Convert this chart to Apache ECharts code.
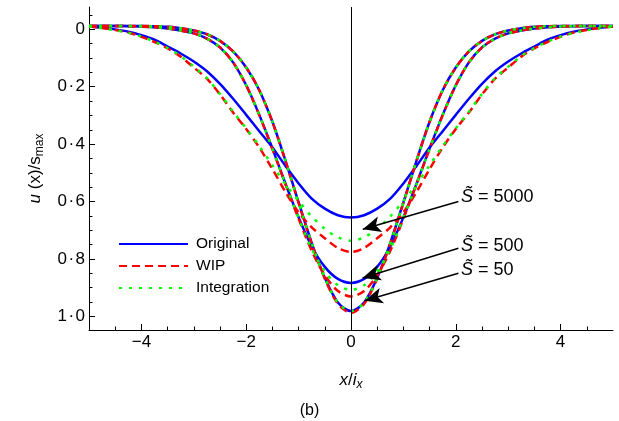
<!DOCTYPE html>
<html><head><meta charset="utf-8">
<script src="https://cdn.jsdelivr.net/npm/echarts@6/dist/echarts.min.js"></script>
<style>html,body{margin:0;padding:0;background:#fff}#c{width:619px;height:421px}</style>
</head><body><div id="c"></div>
<script>
const xs = [-5,-4.75,-4.5,-4.25,-4,-3.75,-3.5,-3.25,-3,-2.75,-2.5,-2.25,-2,-1.75,-1.5,-1.25,-1,-0.75,-0.5,-0.25,0,0.25,0.5,0.75,1,1.25,1.5,1.75,2,2.25,2.5,2.75,3,3.25,3.5,3.75,4,4.25,4.5,4.75,5];

const original50 = [-0.012,-0.012,-0.012,-0.012,-0.012,-0.011,-0.009,-0.004,0.004,0.017,0.040,0.077,0.133,0.212,0.322,0.458,0.603,0.744,0.866,0.952,0.982,0.952,0.866,0.744,0.603,0.458,0.322,0.212,0.133,0.077,0.040,0.017,0.004,-0.004,-0.009,-0.011,-0.012,-0.012,-0.012,-0.012,-0.012];
const original500 = [-0.012,-0.012,-0.012,-0.011,-0.010,-0.007,-0.003,0.004,0.014,0.032,0.063,0.115,0.195,0.298,0.415,0.538,0.655,0.757,0.828,0.870,0.884,0.870,0.828,0.757,0.655,0.538,0.415,0.298,0.195,0.115,0.063,0.032,0.014,0.004,-0.003,-0.007,-0.010,-0.011,-0.012,-0.012,-0.012];
const original5000 = [-0.010,-0.006,0.000,0.008,0.020,0.036,0.060,0.084,0.112,0.146,0.190,0.242,0.298,0.355,0.412,0.476,0.537,0.590,0.625,0.648,0.656,0.648,0.625,0.590,0.537,0.476,0.412,0.355,0.298,0.242,0.190,0.146,0.112,0.084,0.060,0.036,0.020,0.008,0.000,-0.006,-0.010];

const wip50 = [-0.012,-0.012,-0.012,-0.012,-0.012,-0.011,-0.009,-0.004,0.004,0.017,0.040,0.077,0.133,0.212,0.322,0.459,0.605,0.747,0.869,0.957,0.988,0.957,0.869,0.747,0.605,0.459,0.322,0.212,0.133,0.077,0.040,0.017,0.004,-0.004,-0.009,-0.011,-0.012,-0.012,-0.012,-0.012,-0.012];
const wip500 = [-0.012,-0.012,-0.012,-0.011,-0.010,-0.007,-0.003,0.004,0.014,0.032,0.063,0.115,0.195,0.299,0.417,0.540,0.660,0.772,0.857,0.912,0.931,0.912,0.857,0.772,0.660,0.540,0.417,0.299,0.195,0.115,0.063,0.032,0.014,0.004,-0.003,-0.007,-0.010,-0.011,-0.012,-0.012,-0.012];
const wip5000 = [-0.010,-0.005,0.002,0.011,0.026,0.044,0.066,0.095,0.133,0.172,0.227,0.290,0.347,0.412,0.487,0.567,0.638,0.690,0.728,0.762,0.776,0.762,0.728,0.690,0.638,0.567,0.487,0.412,0.347,0.290,0.227,0.172,0.133,0.095,0.066,0.044,0.026,0.011,0.002,-0.005,-0.010];

const integ50 = [-0.012,-0.012,-0.012,-0.012,-0.012,-0.011,-0.009,-0.004,0.004,0.017,0.040,0.077,0.133,0.212,0.322,0.458,0.604,0.745,0.867,0.953,0.982,0.953,0.867,0.745,0.604,0.458,0.322,0.212,0.133,0.077,0.040,0.017,0.004,-0.004,-0.009,-0.011,-0.012,-0.012,-0.012,-0.012,-0.012];
const integ500 = [-0.012,-0.012,-0.012,-0.011,-0.010,-0.007,-0.003,0.004,0.014,0.032,0.063,0.115,0.195,0.298,0.416,0.539,0.657,0.765,0.843,0.892,0.908,0.892,0.843,0.765,0.657,0.539,0.416,0.298,0.195,0.115,0.063,0.032,0.014,0.004,-0.003,-0.007,-0.010,-0.011,-0.012,-0.012,-0.012];
const integ5000 = [-0.010,-0.004,0.003,0.012,0.025,0.043,0.065,0.093,0.130,0.170,0.225,0.287,0.345,0.407,0.474,0.540,0.598,0.652,0.695,0.725,0.737,0.725,0.695,0.652,0.598,0.540,0.474,0.407,0.345,0.287,0.225,0.170,0.130,0.093,0.065,0.043,0.025,0.012,0.003,-0.004,-0.010];

const legendNames = ['Original','WIP','Integration'];
const xMajorTicks = [-4,-2,0,2,4];
const xMinorTicks = [-4.5,-3.5,-3,-2.5,-1.5,-1,-0.5,0.5,1,1.5,2.5,3,3.5,4.5];
const yMajorTicks = [0,0.2,0.4,0.6,0.8,1.0];
const yMinorTicks = [-0.05,0.05,0.1,0.15,0.25,0.3,0.35,0.45,0.5,0.55,0.65,0.7,0.75,0.85,0.9,0.95];

const annoLabels = ['5000','500','50'];
const annoTextX = [2.1,2.1,2.1];
const annoTextY = [0.583,0.754,0.838];
const arrowFromX = [2.05,2.05,2.05];
const arrowFromY = [0.600,0.763,0.850];
const arrowToX = [0.225,0.22,0.26];
const arrowToY = [0.697,0.867,0.946];

const FONT = 'Liberation Sans, Arial, sans-serif';
const toPts = arr => xs.map((x,i)=>[x, arr[i]]);

const styles = {
  Original: {color:'#0000ff', width:2.5, type:'solid'},
  WIP: {color:'#ff0000', width:2.5, type:[8,5]},
  Integration: {color:'#00ff00', width:2.5, type:[3,7]}
};
function mk(name, arr, extra) {
  const st = styles[name];
  return Object.assign({
    type:'line', name, data: toPts(arr), symbol:'none', showSymbol:false,
    smooth:0.3, xAxisIndex:0, yAxisIndex:0,
    lineStyle:{color:st.color, width:st.width, type:st.type, cap:'butt'},
    itemStyle:{color:st.color}, silent:true
  }, extra||{});
}

const chart = echarts.init(document.getElementById('c'), null, {renderer:'canvas'});
const yFmt = v => { if (Math.abs(v) < 1e-9) return '0'; return v.toFixed(1).replace('.', '\u200a\u00b7\u200a'); };
const xFmt = v => (v < 0 ? '\u2212' + Math.abs(v) : String(v));

chart.setOption({
  animation:false,
  textStyle:{fontFamily:FONT},
  grid:{left:89, right:6, top:7, bottom:91, containLabel:false},
  legend:{
    data:legendNames, orient:'vertical', left:118, top:236, padding:0,
    itemWidth:69, itemHeight:14, itemGap:6,
    itemStyle:{opacity:0},
    textStyle:{fontSize:15.5, color:'#000', fontFamily:FONT, padding:[0,0,0,3], lineHeight:14},
    selectedMode:false
  },
  title:{text:'(b)', left:'center', top:403, padding:0, textStyle:{fontSize:16, fontWeight:'normal', color:'#000', fontFamily:FONT}},
  xAxis:[{
    type:'value', min:-5, max:5, position:'bottom',
    axisLine:{show:true, onZero:false, lineStyle:{color:'#000', width:1}},
    axisTick:{show:true, inside:true, length:6, customValues:xMajorTicks, lineStyle:{color:'#000'}},
    axisLabel:{show:true, customValues:xMajorTicks, formatter:xFmt, fontSize:17, color:'#000', margin:4, fontFamily:FONT},
    splitLine:{show:false},
    name:'{i|x}/{i|i}{sub|x}', nameLocation:'middle', nameGap:39,
    nameTextStyle:{fontSize:17, color:'#000', fontFamily:FONT, rich:{
      i:{fontSize:17, fontStyle:'italic', fontFamily:FONT, color:'#000'},
      sub:{fontSize:12, fontStyle:'italic', fontFamily:FONT, color:'#000', padding:[10,0,0,0]}
    }}
  },{
    type:'value', min:-5, max:5, position:'bottom',
    axisLine:{show:false, onZero:false},
    axisTick:{show:true, inside:true, length:3.5, customValues:xMinorTicks, lineStyle:{color:'#000'}},
    axisLabel:{show:false}, splitLine:{show:false}
  }],
  yAxis:[{
    type:'value', inverse:true, min:-0.078, max:1.048, position:'left',
    axisLine:{show:true, onZero:false, lineStyle:{color:'#000', width:1}},
    axisTick:{show:true, inside:true, length:6, customValues:yMajorTicks, lineStyle:{color:'#000'}},
    axisLabel:{show:true, customValues:yMajorTicks, formatter:yFmt, fontSize:17, color:'#000', margin:4, fontFamily:FONT},
    splitLine:{show:false},
    name:'{i|u} (x)/s{sub|max}', nameLocation:'middle', nameGap:43,
    nameTextStyle:{fontSize:17, color:'#000', fontFamily:FONT, rich:{
      i:{fontSize:17, fontStyle:'italic', fontFamily:FONT, color:'#000'},
      sub:{fontSize:12, fontFamily:FONT, color:'#000', padding:[10,0,0,0]}
    }}
  },{
    type:'value', inverse:true, min:-0.078, max:1.048, position:'left',
    axisLine:{show:false, onZero:false},
    axisTick:{show:true, inside:true, length:3.5, customValues:yMinorTicks, lineStyle:{color:'#000'}},
    axisLabel:{show:false}, splitLine:{show:false}
  }],
  series:[
    mk('Original', original50),
    mk('Original', original500),
    mk('Original', original5000),
    mk('WIP', wip50),
    mk('WIP', wip500),
    mk('WIP', wip5000),
    mk('Integration', integ50),
    mk('Integration', integ500, {markLine:{
      silent:true, symbol:['none','none'], animation:false,
      label:{show:false}, lineStyle:{color:'#000', width:1, type:'solid'},
      data:[{xAxis:0}]
    }}),
    mk('Integration', integ5000, {markLine:{
      silent:true, symbol:['none','arrow'], symbolSize:[12,18], animation:false,
      label:{show:false}, lineStyle:{color:'#000', width:1.5, type:'solid'},
      itemStyle:{color:'#000'},
      data: arrowFromX.map((fx,i)=>[{coord:[fx, arrowFromY[i]]},{coord:[arrowToX[i], arrowToY[i]]}])
    }})
  ]
});

const graphics = annoLabels.map((lab,i)=>{
  const p = chart.convertToPixel({xAxisIndex:0, yAxisIndex:0}, [annoTextX[i], annoTextY[i]]);
  return {type:'text', x:p[0], y:p[1], z:100, style:{
    text:'{s|S\u0303} = ' + lab, fontSize:18, fontFamily:FONT, fill:'#000',
    verticalAlign:'middle', align:'left',
    rich:{s:{fontSize:18, fontStyle:'italic', fontFamily:FONT, fill:'#000'}}
  }};
});
chart.setOption({graphic:graphics});
</script></body></html>
